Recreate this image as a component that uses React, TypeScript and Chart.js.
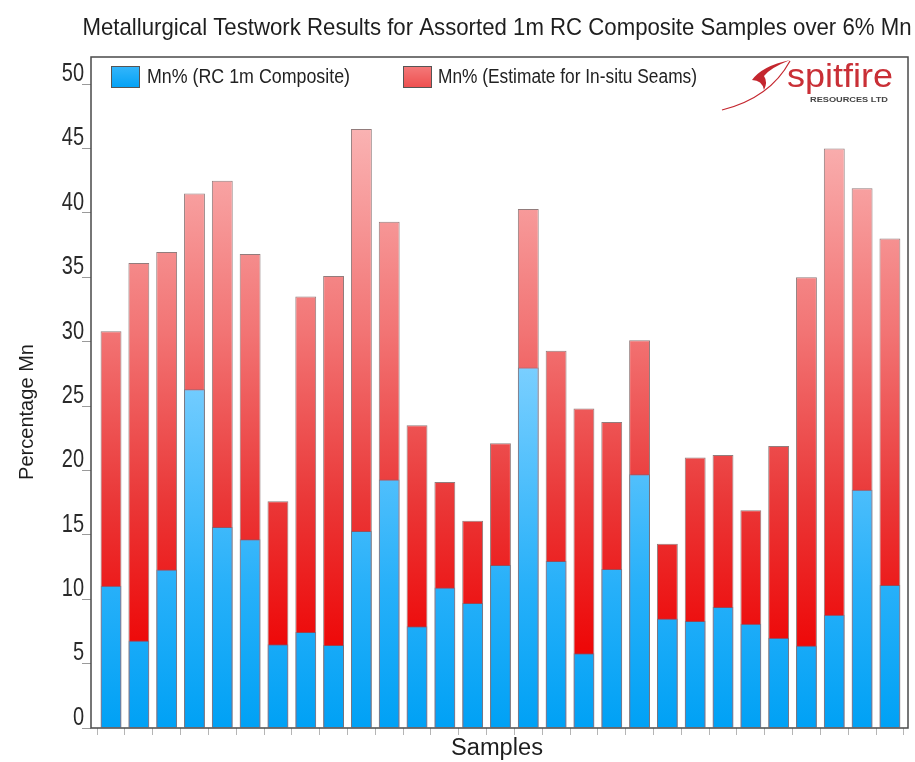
import React, { useEffect, useRef } from "react";
import { Chart, registerables } from "chart.js";

Chart.register(...registerables);

const TITLE = "Metallurgical Testwork Results for Assorted 1m RC Composite Samples over 6% Mn";
const Y_TITLE = "Percentage Mn";
const X_TITLE = "Samples";
const SERIES_RC = "Mn% (RC 1m Composite)";
const SERIES_INSITU = "Mn% (Estimate for In-situ Seams)";

// Mn% measured on RC 1m composites (blue)
const rcComposite = [
  11.05, 6.8, 12.3, 26.3, 15.6, 14.65, 6.5, 7.45, 6.44, 15.3,
  19.3, 7.9, 10.9, 9.7, 12.65, 28.0, 12.97, 5.8, 12.35, 19.7,
  8.5, 8.3, 9.4, 8.1, 7.0, 6.4, 8.8, 18.5, 11.1,
];
// Mn% estimate for in-situ seams (red, total bar height)
const insituEstimate = [
  30.8, 36.1, 36.96, 41.5, 42.5, 36.8, 17.6, 33.5, 35.1, 46.5,
  39.3, 23.5, 19.1, 16.1, 22.1, 40.3, 29.3, 24.8, 23.75, 30.1,
  14.3, 21.0, 21.2, 16.9, 21.9, 35.0, 45.0, 41.9, 38.0,
];
const yTickStep = 5;
const yMax = 52.1;
const yTickMax = 50;

const FONT = "'Liberation Sans', Arial, sans-serif";

function fitText(
  ctx: CanvasRenderingContext2D,
  text: string,
  x: number,
  y: number,
  size: number,
  width: number | null,
  align: CanvasTextAlign,
  color: string,
  weight = "normal",
  squeeze = 1
) {
  ctx.save();
  ctx.font = `${weight} ${size}px ${FONT}`;
  const w = ctx.measureText(text).width;
  const s = width ? width / w : squeeze;
  ctx.translate(x, y);
  ctx.scale(s, 1);
  ctx.textAlign = align;
  ctx.textBaseline = "middle";
  ctx.fillStyle = color;
  ctx.fillText(text, 0, 0);
  ctx.restore();
}

const decorPlugin = {
  id: "decor",
  afterDraw(chart: any) {
    const ctx: CanvasRenderingContext2D = chart.ctx;
    const a = chart.chartArea;
    // frame
    ctx.save();
    ctx.strokeStyle = "#4a4a4a";
    ctx.lineWidth = 1.5;
    ctx.strokeRect(a.left, a.top, a.right - a.left, a.bottom - a.top);
    ctx.restore();

    // y tick labels (condensed), positioned by the y scale
    const ys = chart.scales.y;
    ys.ticks.forEach((t: any) => {
      const py = ys.getPixelForValue(t.value);
      fitText(ctx, String(t.value), a.left - 7, py - 10, 25, null, "right", "#2a2a2a", "normal", 0.8);
    });

    // title
    fitText(ctx, TITLE, 497, 28, 24, 829, "center", "#1e1e1e");
    // axis titles
    ctx.save();
    ctx.translate(27, 412);
    ctx.rotate(-Math.PI / 2);
    fitText(ctx, Y_TITLE, 0, 0, 21, 136, "center", "#1e1e1e");
    ctx.restore();
    fitText(ctx, X_TITLE, 497, 749, 23, 92, "center", "#1e1e1e");

    // legend
    ctx.save();
    ctx.lineWidth = 1;
    ctx.strokeStyle = "#555";
    const gb = ctx.createLinearGradient(0, 66, 0, 87);
    gb.addColorStop(0, "#35b6fb");
    gb.addColorStop(1, "#05a2f5");
    ctx.fillStyle = gb;
    ctx.fillRect(111, 66, 28, 21);
    ctx.strokeRect(111.5, 66.5, 28, 21);
    const gr = ctx.createLinearGradient(0, 66, 0, 87);
    gr.addColorStop(0, "#f47a7a");
    gr.addColorStop(1, "#ee5050");
    ctx.fillStyle = gr;
    ctx.fillRect(403, 66, 28, 21);
    ctx.strokeRect(403.5, 66.5, 28, 21);
    ctx.restore();
    fitText(ctx, SERIES_RC, 147, 77, 20, 203, "left", "#222");
    fitText(ctx, SERIES_INSITU, 438, 77, 20, 259, "left", "#222");

    // logo
    ctx.save();
    ctx.strokeStyle = "#c4262e";
    ctx.fillStyle = "#c4262e";
    ctx.lineWidth = 1.2;
    ctx.beginPath();
    ctx.moveTo(722, 110);
    ctx.quadraticCurveTo(770, 98, 790, 61);
    ctx.stroke();
    ctx.beginPath();
    ctx.moveTo(752, 80);
    ctx.quadraticCurveTo(762, 66, 790, 60);
    ctx.quadraticCurveTo(770, 68, 764, 76);
    ctx.quadraticCurveTo(768, 82, 764, 90);
    ctx.quadraticCurveTo(762, 80, 752, 80);
    ctx.closePath();
    ctx.fill();
    ctx.restore();
    fitText(ctx, "spitfire", 787, 78, 34, 106, "left", "#c92f36", "300");
    fitText(ctx, "RESOURCES LTD", 810, 100, 8, 78, "left", "#444", "bold");
  },
};

function redGradient(ctx: any) {
  const chart = ctx.chart;
  const a = chart.chartArea;
  if (!a) return "#ef3a3a";
  const g = chart.ctx.createLinearGradient(0, a.top, 0, a.bottom);
  g.addColorStop(0, "#fdd2d2");
  g.addColorStop(0.1, "#fab4b4");
  g.addColorStop(0.41, "#f27474");
  g.addColorStop(0.66, "#ea3838");
  g.addColorStop(0.88, "#ee0808");
  g.addColorStop(1, "#ee0000");
  return g;
}

function blueGradient(ctx: any) {
  const chart = ctx.chart;
  const a = chart.chartArea;
  if (!a) return "#1aaaf7";
  const g = chart.ctx.createLinearGradient(0, a.top, 0, a.bottom);
  g.addColorStop(0, "#c4ecff");
  g.addColorStop(0.46, "#7acfff");
  g.addColorStop(0.79, "#27b0f9");
  g.addColorStop(1, "#00a1f5");
  return g;
}

export default function App() {
  const ref = useRef<HTMLCanvasElement | null>(null);

  useEffect(() => {
    document.body.style.margin = "0";
    const canvas = ref.current;
    if (!canvas) return;
    const chart = new Chart(canvas, {
      type: "bar",
      data: {
        datasets: [
          {
            label: SERIES_RC,
            data: rcComposite.map((v, i) => ({ x: i, y: v })),
            backgroundColor: blueGradient,
            borderColor: "rgba(90,110,130,0.55)",
            borderWidth: 1,
            grouped: false,
            barPercentage: 0.75,
            categoryPercentage: 1,
          } as any,
          {
            label: SERIES_INSITU,
            data: insituEstimate.map((v, i) => ({ x: i, y: v })),
            backgroundColor: redGradient,
            borderColor: "rgba(110,80,80,0.75)",
            borderWidth: 1,
            grouped: false,
            barPercentage: 0.75,
            categoryPercentage: 1,
          } as any,
        ],
      },
      options: {
        animation: false,
        responsive: false,
        devicePixelRatio: 1,
        layout: { padding: { top: 57, right: 7, left: 0, bottom: 0 } },
        plugins: {
          legend: { display: false },
          title: { display: false },
          tooltip: { enabled: false },
        },
        scales: {
          x: {
            type: "linear",
            min: -0.72,
            max: 28.65,
            offset: false,
            afterBuildTicks: (scale: any) => {
              scale.ticks = rcComposite
                .map((_, i) => ({ value: i - 0.5 }))
                .concat([{ value: rcComposite.length - 0.5 }]);
            },
            afterFit: (scale: any) => {
              scale.height = 34;
            },
            ticks: { callback: () => "", padding: 0, autoSkip: false },
            grid: {
              offset: false,
              drawOnChartArea: false,
              drawTicks: true,
              tickLength: 7,
              color: "#b5b5b5",
            },
            border: { display: false },
          },
          y: {
            type: "linear",
            min: 0,
            max: yMax,
            afterBuildTicks: (scale: any) => {
              scale.ticks = scale.ticks.filter(
                (t: any) => t.value % yTickStep === 0 && t.value <= yTickMax
              );
            },
            afterFit: (scale: any) => {
              scale.width = 91;
            },
            ticks: {
              stepSize: yTickStep,
              callback: () => "",
            },
            grid: {
              drawOnChartArea: false,
              drawTicks: true,
              tickLength: 9,
              color: "#9a9a9a",
            },
            border: { display: false },
          },
        },
      },
      plugins: [decorPlugin],
    });
    return () => chart.destroy();
  }, []);

  return (
    <div style={{ width: 915, height: 762 }}>
      <canvas ref={ref} width={915} height={762} style={{ display: "block" }} />
    </div>
  );
}
